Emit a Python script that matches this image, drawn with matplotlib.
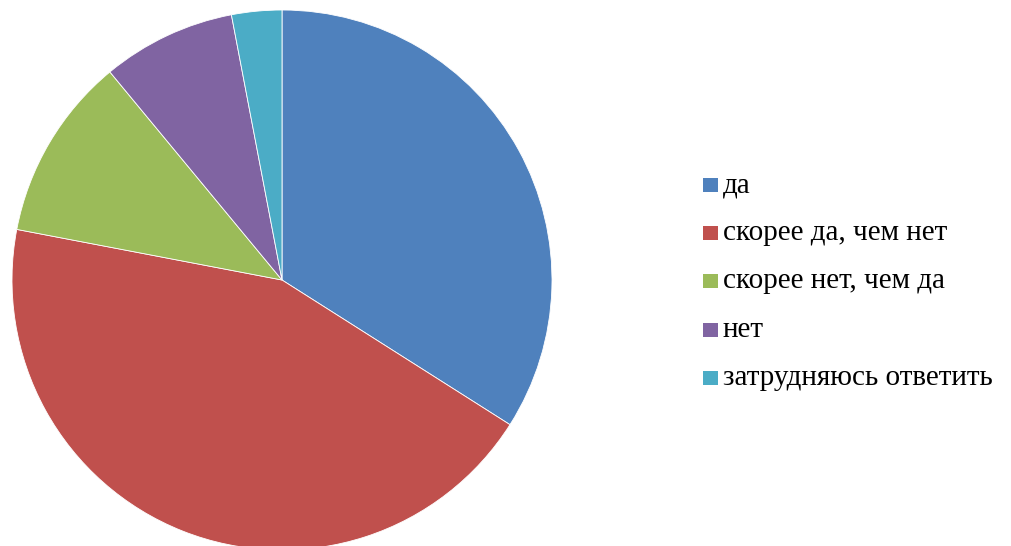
import matplotlib
matplotlib.use("Agg")
import matplotlib.pyplot as plt
from matplotlib.patches import Rectangle

labels = ["да", "скорее да, чем нет", "скорее нет, чем да", "нет", "затрудняюсь ответить"]
values = [34, 44, 11, 8, 3]
colors = ["#4F81BD", "#C0504D", "#9BBB59", "#8064A2", "#4BACC6"]

W, H = 1011, 546
fig = plt.figure(figsize=(W / 100, H / 100), dpi=100)
cx, cy, r = 282, 280, 270
ax = fig.add_axes([(cx - r) / W, (H - (cy + r)) / H, 2 * r / W, 2 * r / H])
ax.pie(values, colors=colors, startangle=90, counterclock=False, radius=1,
       wedgeprops=dict(edgecolor="white", linewidth=0.6))
ax.set_xlim(-1, 1)
ax.set_ylim(-1, 1)
ax.set_aspect("equal")
ax.axis("off")

ys = [185, 233, 281, 330, 378]
for lab, col, y in zip(labels, colors, ys):
    fig.patches.append(Rectangle((703 / W, (H - y - 7) / H), 15 / W, 14 / H,
                                 transform=fig.transFigure, facecolor=col, edgecolor="none"))
    fig.text(723 / W, (H - y - 7) / H, lab, fontsize=21, family="Liberation Serif",
             va="baseline", ha="left", color="black")

fig.savefig("out.png", dpi=100)
